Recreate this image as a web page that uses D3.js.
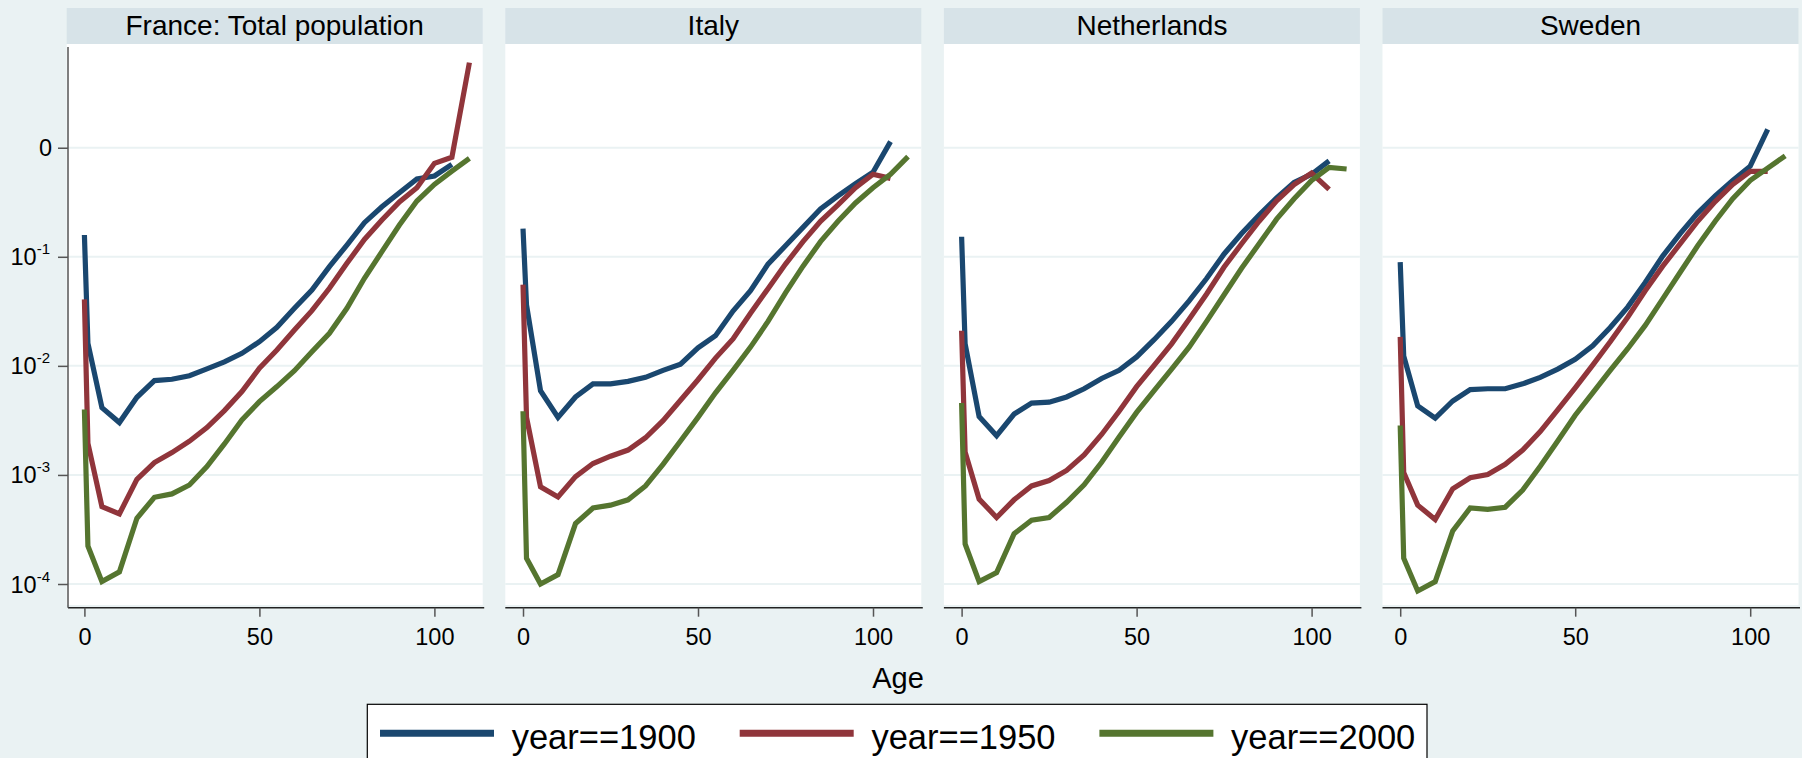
<!DOCTYPE html>
<html>
<head>
<meta charset="utf-8">
<script src="https://cdn.jsdelivr.net/npm/d3@7"></script>
<style>
  html, body { margin: 0; padding: 0; background: #eaf2f3; }
  svg { display: block; font-family: "Liberation Sans", Arial, sans-serif; }
</style>
</head>
<body>
<svg id="chart" width="1802" height="758"></svg>
<script>
// ---------------- data (log10 of mortality rate) ----------------
const ages = [0,1,5,10,15,20,25,30,35,40,45,50,55,60,65,70,75,80,85,90,95,100,105,110];
const panels = ["France: Total population", "Italy", "Netherlands", "Sweden"];
const years = ["year==1900", "year==1950", "year==2000"];
const colors = ["#1a476f", "#90353b", "#55752f"];

const france1900 = [-0.80,-1.793,-2.383,-2.52,-2.288,-2.135,-2.123,-2.09,-2.028,-1.964,-1.885,-1.778,-1.647,-1.472,-1.304,-1.09,-0.892,-0.687,-0.541,-0.412,-0.287,-0.259,-0.152];
const france1950 = [-1.39,-2.71,-3.29,-3.357,-3.04,-2.887,-2.795,-2.691,-2.566,-2.41,-2.236,-2.022,-1.854,-1.671,-1.494,-1.289,-1.06,-0.841,-0.663,-0.498,-0.367,-0.143,-0.088,0.78];
const france2000 = [-2.40,-3.651,-3.978,-3.889,-3.397,-3.205,-3.174,-3.092,-2.924,-2.716,-2.496,-2.328,-2.19,-2.044,-1.87,-1.701,-1.472,-1.197,-0.953,-0.709,-0.489,-0.336,-0.214,-0.097];

const italy1900 = [-0.742,-1.442,-2.228,-2.472,-2.285,-2.165,-2.165,-2.142,-2.105,-2.041,-1.985,-1.835,-1.723,-1.498,-1.311,-1.067,-0.899,-0.730,-0.562,-0.442,-0.33,-0.225,0.056];
const italy1950 = [-1.255,-2.472,-3.109,-3.202,-3.015,-2.895,-2.828,-2.772,-2.659,-2.502,-2.315,-2.127,-1.929,-1.753,-1.517,-1.292,-1.067,-0.861,-0.674,-0.524,-0.367,-0.243,-0.281];
const italy2000 = [-2.416,-3.764,-4.0,-3.914,-3.446,-3.303,-3.277,-3.228,-3.101,-2.903,-2.689,-2.472,-2.247,-2.041,-1.828,-1.592,-1.330,-1.086,-0.861,-0.674,-0.506,-0.367,-0.243,-0.082];

const netherlands1900 = [-0.816,-1.798,-2.464,-2.64,-2.442,-2.341,-2.333,-2.285,-2.21,-2.116,-2.041,-1.918,-1.76,-1.592,-1.404,-1.199,-0.974,-0.787,-0.618,-0.461,-0.318,-0.243,-0.12];
const netherlands1950 = [-1.678,-2.79,-3.221,-3.39,-3.228,-3.101,-3.052,-2.959,-2.816,-2.629,-2.416,-2.191,-1.996,-1.798,-1.573,-1.341,-1.094,-0.88,-0.674,-0.487,-0.337,-0.232,-0.382];
const netherlands2000 = [-2.341,-3.633,-3.978,-3.895,-3.539,-3.416,-3.39,-3.251,-3.09,-2.884,-2.652,-2.427,-2.228,-2.03,-1.828,-1.592,-1.348,-1.105,-0.88,-0.655,-0.468,-0.30,-0.18,-0.195];

const sweden1900 = [-1.049,-1.91,-2.367,-2.479,-2.322,-2.217,-2.21,-2.21,-2.165,-2.105,-2.03,-1.94,-1.816,-1.648,-1.461,-1.236,-0.993,-0.787,-0.599,-0.442,-0.30,-0.169,0.169];
const sweden1950 = [-1.734,-2.978,-3.277,-3.408,-3.127,-3.026,-2.996,-2.903,-2.772,-2.603,-2.404,-2.202,-1.993,-1.779,-1.554,-1.311,-1.086,-0.88,-0.674,-0.494,-0.337,-0.217,-0.217];
const sweden2000 = [-2.547,-3.764,-4.064,-3.978,-3.513,-3.303,-3.315,-3.296,-3.139,-2.921,-2.689,-2.453,-2.247,-2.041,-1.843,-1.629,-1.386,-1.142,-0.899,-0.674,-0.468,-0.30,-0.187,-0.075];

const xTicks = [0, 50, 100];
const yTicks = [0, -1, -2, -3, -4];
const yTickBase = ["0", "10", "10", "10", "10"];
const yTickExp = ["", "-1", "-2", "-3", "-4"];
const xTitle = "Age";

const panelSeries = [
  [france1900, france1950, france2000],
  [italy1900, italy1950, italy2000],
  [netherlands1900, netherlands1950, netherlands2000],
  [sweden1900, sweden1950, sweden2000]
];

// ---------------- layout ----------------
const svg = d3.select("#chart");
svg.append("rect").attr("width", 1802).attr("height", 758).attr("fill", "#eaf2f3");

const panelLeft0 = 66.7, panelStep = 438.6, panelW = 416;
const stripTop = 8, plotTop = 44, plotBottom = 605, axisY = 607.7;

const y = d3.scaleLinear().domain([-4.1925, 0.951]).range([plotBottom, plotTop]);

panels.forEach((title, i) => {
  const left = panelLeft0 + i * panelStep;
  const x = d3.scaleLinear().domain([-5.06, 113.8]).range([left, left + panelW]);
  const g = svg.append("g");

  // strip
  g.append("rect").attr("x", left).attr("y", stripTop).attr("width", panelW)
    .attr("height", plotTop - stripTop).attr("fill", "#d7e3e8");
  g.append("text").attr("x", left + panelW / 2).attr("y", 34.5)
    .attr("text-anchor", "middle").attr("font-size", 28).attr("fill", "#000").text(title);

  // plot region
  g.append("rect").attr("x", left).attr("y", plotTop).attr("width", panelW)
    .attr("height", plotBottom - plotTop).attr("fill", "#ffffff");

  // gridlines
  g.selectAll("line.grid").data(yTicks).enter().append("line")
    .attr("x1", left).attr("x2", left + panelW)
    .attr("y1", d => y(d)).attr("y2", d => y(d))
    .attr("stroke", "#eaf2f3").attr("stroke-width", 2);

  // series
  const line = d3.line().x((d, k) => x(ages[k])).y(d => y(d));
  panelSeries[i].forEach((vals, s) => {
    g.append("path").datum(vals).attr("d", line)
      .attr("fill", "none").attr("stroke", colors[s]).attr("stroke-width", 5.2)
      .attr("stroke-linejoin", "miter").attr("stroke-miterlimit", 3).attr("stroke-linecap", "butt");
  });

  // x axis
  const xAxis = d3.axisBottom(x).tickValues(xTicks).tickSize(9).tickSizeOuter(0).tickPadding(5);
  const ax = g.append("g").attr("transform", `translate(0,${axisY})`).call(xAxis);
  ax.select(".domain").attr("stroke", "#222").attr("stroke-width", 1.5)
    .attr("d", `M${left + (i === 0 ? 1.3 : 0)},0H${left + panelW + 1.5}`);
  ax.selectAll(".tick line").attr("stroke", "#555").attr("stroke-width", 1.5);
  ax.selectAll(".tick text").attr("font-size", 23.5).attr("fill", "#000")
    .attr("font-family", "'Liberation Sans', Arial, sans-serif").attr("dy", null).attr("y", 37.3);

  // y axis (first panel only)
  if (i === 0) {
    const yAxis = d3.axisLeft(y).tickValues(yTicks).tickSize(10).tickSizeOuter(0).tickFormat(() => "");
    const ay = g.append("g").attr("transform", `translate(${left + 1.3},0)`).call(yAxis);
    ay.select(".domain").attr("stroke", "#555").attr("stroke-width", 1.5)
      .attr("d", `M0,${plotTop + 3}V${axisY}`);
    ay.selectAll(".tick line").attr("stroke", "#555").attr("stroke-width", 1.5);
    ay.selectAll(".tick text").remove();
    yTicks.forEach((v, k) => {
      const t = g.append("text").attr("x", 0).attr("y", y(v) + 8.5)
        .attr("font-size", 23.5).attr("fill", "#000").attr("text-anchor", "end");
      if (yTickExp[k] === "") {
        t.attr("x", 52).text(yTickBase[k]);
      } else {
        t.attr("x", 50);
        t.append("tspan").text(yTickBase[k]);
        t.append("tspan").attr("font-size", 15).attr("dy", -11).text(yTickExp[k]);
      }
    });
  }
});

// axis title
svg.append("text").attr("x", 898).attr("y", 687.5).attr("text-anchor", "middle")
  .attr("font-size", 29).attr("fill", "#000").text(xTitle);

// legend
const legend = svg.append("g");
legend.append("rect").attr("x", 367.3).attr("y", 704.3).attr("width", 1059.7).attr("height", 80)
  .attr("fill", "#ffffff").attr("stroke", "#000").attr("stroke-width", 1.2);
years.forEach((lab, k) => {
  const lx = 380 + k * 359.7;
  legend.append("line").attr("x1", lx).attr("x2", lx + 114).attr("y1", 733.3).attr("y2", 733.3)
    .attr("stroke", colors[k]).attr("stroke-width", 7);
  legend.append("text").attr("x", lx + 131.7).attr("y", 748.5).attr("font-size", 34.5)
    .attr("fill", "#000").text(lab);
});
</script>
</body>
</html>
